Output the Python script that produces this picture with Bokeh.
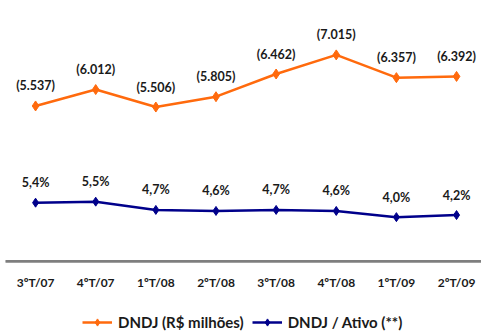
from bokeh.plotting import figure
from bokeh.layouts import column
from bokeh.models import Range1d, FixedTicker, Legend, LegendItem, ColumnDataSource, Span
from bokeh.core.properties import value
from bokeh.embed import file_html
from bokeh.resources import INLINE

# Quarterly series
quarters = ["3ºT/07", "4ºT/07", "1ºT/08", "2ºT/08", "3ºT/08", "4ºT/08", "1ºT/09", "2ºT/09"]
dndj_millions = [5537, 6012, 5506, 5805, 6462, 7015, 6357, 6392]
dndj_over_assets = [5.4, 5.5, 4.7, 4.6, 4.7, 4.6, 4.0, 4.2]
series_names = ["DNDJ (R$ milhões)", "DNDJ / Ativo (**)"]

ORANGE = "#ff6a0d"
NAVY = "#00008b"
TEXT = "#1a1a1a"
AXIS = "#7f7f7f"
FONT = "Lato"

xs = list(range(len(quarters)))
src_a = ColumnDataSource(dict(
    x=xs, y=dndj_millions,
    label=["(" + f"{v:,}".replace(",", ".") + ")" for v in dndj_millions],
))
src_b = ColumnDataSource(dict(
    x=xs, y=dndj_over_assets,
    label=[f"{v:.1f}%".replace(".", ",") for v in dndj_over_assets],
))

p = figure(
    width=481, height=300,
    x_range=Range1d(-0.5, 7.415),
    y_range=Range1d(1036, 8589),
    y_axis_location=None,
    output_backend="svg", toolbar_location=None,
    min_border_left=5, min_border_right=0, min_border_top=0, min_border_bottom=39,
)
p.extra_y_ranges = {"pct": Range1d(-0.3, 25.0)}
p.outline_line_color = None
p.grid.visible = False
p.background_fill_color = None
p.border_fill_color = None

# Bottom category axis
p.xaxis.ticker = FixedTicker(ticks=xs)
p.xaxis.major_label_overrides = {i: q for i, q in enumerate(quarters)}
p.xaxis.axis_line_color = AXIS
p.xaxis.axis_line_width = 2.5
p.xaxis.major_tick_line_color = None
p.xaxis.minor_tick_line_color = None
p.xaxis.major_tick_out = 0
p.xaxis.major_tick_in = 0
p.xaxis.major_label_standoff = 13
p.xaxis.major_label_text_font = FONT
p.xaxis.major_label_text_font_style = "bold"
p.xaxis.major_label_text_font_size = "12px"
p.xaxis.major_label_text_color = TEXT

# Baseline along the bottom of the plot area
p.add_layout(Span(location=p.y_range.start, dimension="width",
                  line_color=AXIS, line_width=3))

line_a = dict(color=ORANGE, line_width=2.5)
dot_a = dict(marker="diamond", size=10, color=ORANGE)
line_b = dict(color=NAVY, line_width=2.5)
dot_b = dict(marker="diamond", size=9, color=NAVY)
label_style = dict(text_align="center", text_baseline="middle", y_offset=-20,
                   text_font=value(FONT), text_font_style="bold",
                   text_font_size="12.5px", text_color=TEXT)

# DNDJ in R$ millions
p.line("x", "y", source=src_a, **line_a)
p.scatter("x", "y", source=src_a, **dot_a)
p.text("x", "y", text="label", source=src_a, **label_style)

# DNDJ / total assets
p.line("x", "y", source=src_b, y_range_name="pct", **line_b)
p.scatter("x", "y", source=src_b, y_range_name="pct", **dot_b)
p.text("x", "y", text="label", source=src_b, y_range_name="pct", **label_style)

# Legend strip beneath the chart; its renderers share the series sources,
# which fall outside this strip's ranges, so only the legend swatches show
leg = figure(
    width=481, height=31,
    x_range=Range1d(-100, -99), y_range=Range1d(-100, -99),
    x_axis_location=None, y_axis_location=None,
    output_backend="svg", toolbar_location=None,
    min_border_left=0, min_border_right=0, min_border_top=0, min_border_bottom=0,
)
leg.outline_line_color = None
leg.grid.visible = False
ra = [leg.line("x", "y", source=src_a, **line_a),
      leg.scatter("x", "y", source=src_a, **dot_a)]
rb = [leg.line("x", "y", source=src_b, **line_b),
      leg.scatter("x", "y", source=src_b, **dot_b)]
legend = Legend(
    items=[LegendItem(label=series_names[0], renderers=ra),
           LegendItem(label=series_names[1], renderers=rb)],
    orientation="horizontal",
    location=(77, 0),
    glyph_width=30, glyph_height=18,
    spacing=8, padding=0, margin=0,
    label_standoff=6, label_height=18,
    label_text_font=FONT, label_text_font_style="bold",
    label_text_font_size="15px", label_text_color=TEXT,
    border_line_color=None, background_fill_alpha=0,
)
leg.add_layout(legend, "center")

layout = column(p, leg, spacing=0)
open("out.html", "w").write(file_html(layout, INLINE))
